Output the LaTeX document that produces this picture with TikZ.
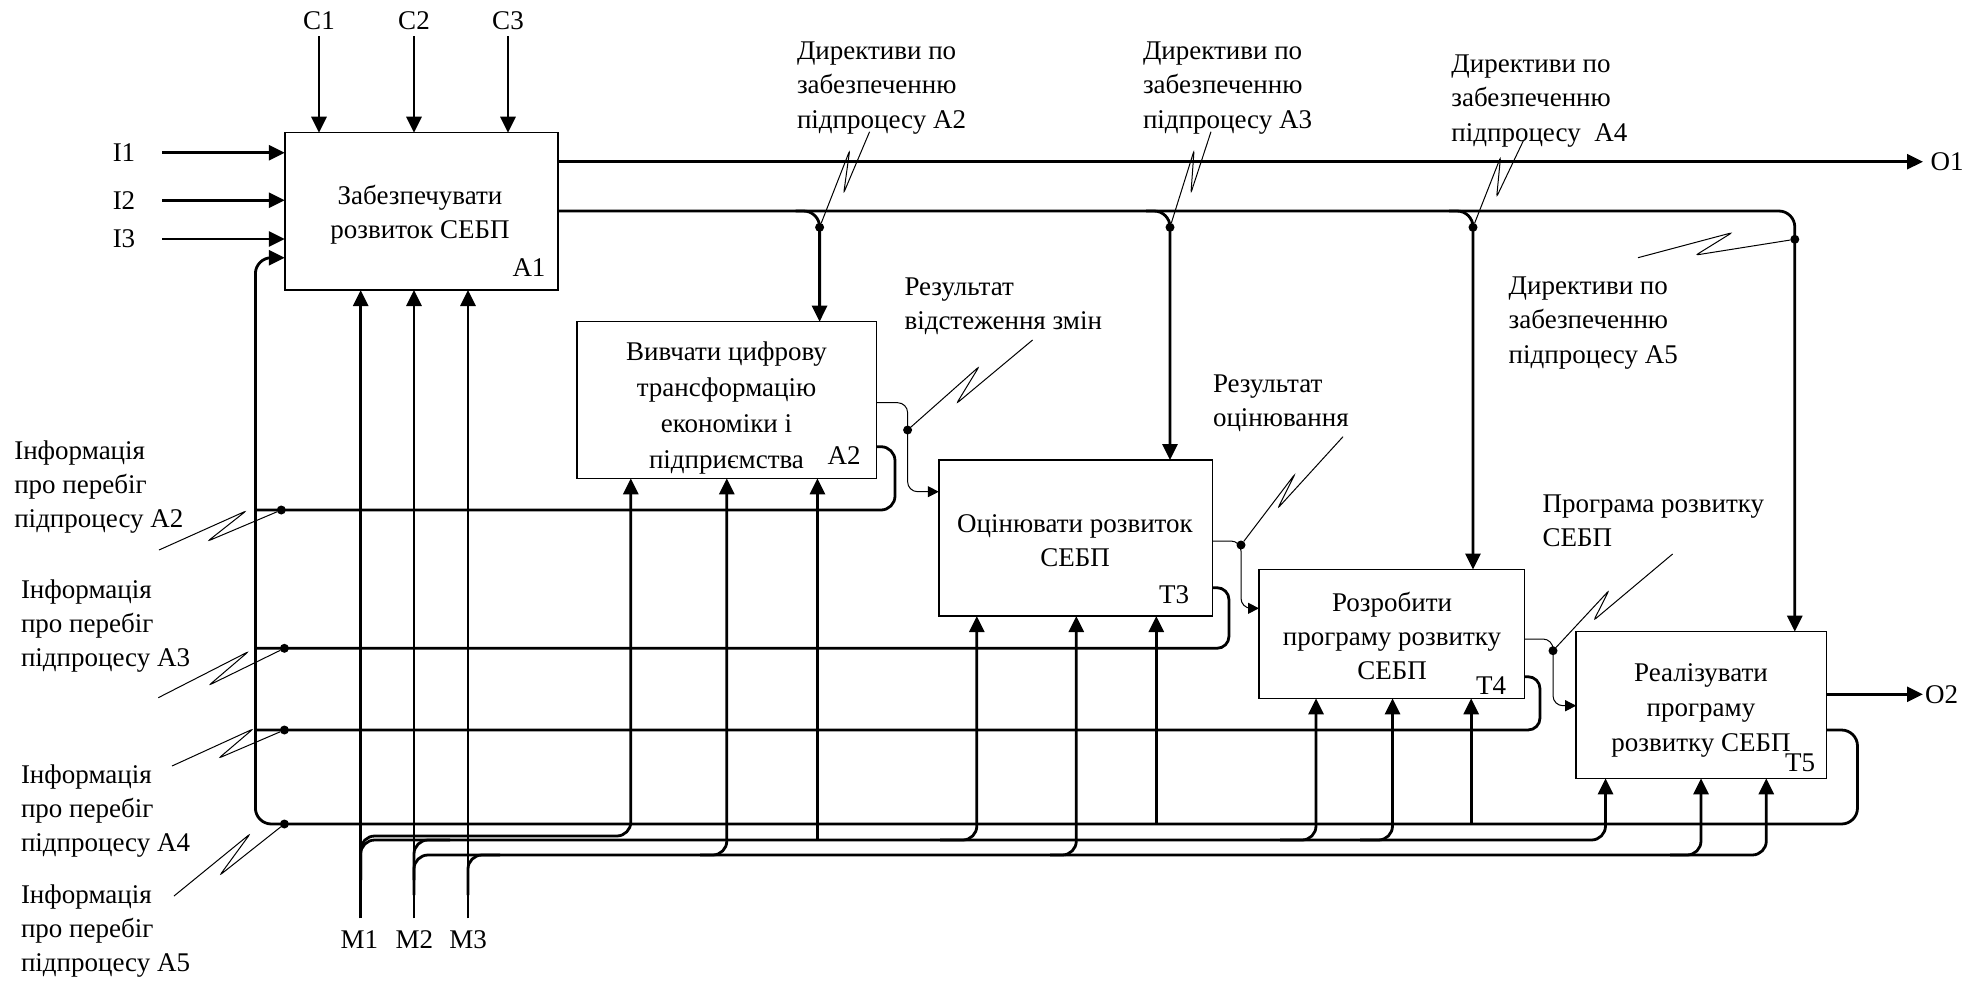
\documentclass[tikz,border=0pt]{standalone}
\usepackage{fontspec}
\setmainfont{Liberation Serif}
\usetikzlibrary{arrows.meta,fit}
\begin{document}
\begin{tikzpicture}[x=0.5pt,y=-0.5pt,
  every node/.style={font=\fontsize{13.5}{17.2}\selectfont, inner sep=0pt, outer sep=0pt},
  box/.style={draw, line width=0.75pt, inner sep=0pt, outer sep=0pt},
  btxt/.style={align=center},
  thk/.style={line width=1.4pt},
  thn/.style={line width=0.5pt},
  arr/.style={-{Triangle[length=8pt,width=7.5pt]}},
  sarr/.style={-{Triangle[length=5.5pt,width=5.5pt]}},
  dot/.style={circle, fill, inner sep=0pt, minimum size=4.5pt},
  sq/.style={line width=0.5pt, rounded corners=1.2pt},
  lab/.style={align=left, anchor=west}]
\useasboundingbox (0,0) rectangle (1988,986);

% activity boxes
\node[box, fit={(284.8,132.7) (558,290)}] (A1) {};
\node[box, fit={(577.2,321.7) (876.3,478.3)}] (A2) {};
\node[box, fit={(938.8,460) (1212.5,616)}] (T3) {};
\node[box, fit={(1259,569.5) (1524.5,698.3)}] (T4) {};
\node[box, fit={(1576.2,631.7) (1826.7,778.3)}] (T5) {};

\node[btxt] (tA1) at (420,215) {Забезпечувати\\розвиток СЕБП};
\node[btxt, font=\fontsize{13.5}{18}\selectfont] (tA2) at (726.5,408) {Вивчати цифрову\\трансформацію\\економіки і\\підприємства};
\node[btxt] (tT3) at (1075,540.5) {Оцінювати розвиток\\СЕБП};
\node[btxt, font=\fontsize{13.5}{17}\selectfont] (tT4) at (1392,636) {Розробити\\програму розвитку\\СЕБП};
\node[btxt, font=\fontsize{13.5}{17.5}\selectfont] (tT5) at (1701,710) {Реалізувати\\програму\\розвитку СЕБП};

\node (idA1) at (529,268) {A1};
\node (idA2) at (844,456) {A2};
\node (idT3) at (1174,595) {T3};
\node (idT4) at (1491,686) {T4};
\node (idT5) at (1800,763) {T5};

% controls C1..C3
\node (C1) at (319,20.7) {C1};
\node (C2) at (414,20.7) {C2};
\node (C3) at (508,20.7) {C3};
\coordinate (c1s) at (319,36);
\coordinate (c2s) at (414,36);
\coordinate (c3s) at (508,36);
\draw[thk,arr] (c1s) -- (c1s |- A1.north);
\draw[thk,arr] (c2s) -- (c2s |- A1.north);
\draw[thk,arr] (c3s) -- (c3s |- A1.north);

% inputs I1..I3
\node (I1) at (124,152.7) {I1};
\node (I2) at (124,200.3) {I2};
\node (I3) at (124,239) {I3};
\coordinate (i1s) at (162,152.7);
\coordinate (i2s) at (162,200.3);
\coordinate (i3s) at (162,239);
\draw[thk,arr] (i1s) -- (i1s -| A1.west);
\draw[thk,arr] (i2s) -- (i2s -| A1.west);
\draw[thk,arr] (i3s) -- (i3s -| A1.west);

% output O1
\node[anchor=west] (O1) at (1930.6,161.7) {O1};
\coordinate (o1t) at (1923,161.7);
\draw[thk,arr] (o1t -| A1.east) -- (o1t);

% directive line from A1 to the sub-processes
\coordinate (a1o) at (558,211);
\coordinate (d2) at (819.6,211);
\coordinate (d3) at (1170,211);
\coordinate (d4) at (1473,211);
\coordinate (d5) at (1794.8,211);
\draw[thk,arr,rounded corners=8pt] (a1o) -- (d5) -- (d5 |- T5.north);
\draw[thk,arr,rounded corners=8pt] ([xshift=-12pt]d2) -- (d2) -- (d2 |- A2.north);
\draw[thk,arr,rounded corners=8pt] ([xshift=-12pt]d3) -- (d3) -- (d3 |- T3.north);
\draw[thk,arr,rounded corners=8pt] ([xshift=-12pt]d4) -- (d4) -- (d4 |- T4.north);
\node[dot] (dd2) at (819.6,227.3) {};
\node[dot] (dd3) at (1170,227.3) {};
\node[dot] (dd4) at (1473,227.3) {};
\node[dot] (dd5) at (1794.8,239.3) {};

% result (thin) arrows
\coordinate (r2) at (907.6,402.7);
\coordinate (r2b) at (907.6,491.7);
\draw[thn,sarr,rounded corners=5pt] (r2 -| A2.east) -- (r2) -- (r2b) -- (r2b -| T3.west);
\coordinate (r3) at (1241,541);
\coordinate (r3b) at (1241,608.3);
\draw[thn,sarr,rounded corners=5pt] (r3 -| T3.east) -- (r3) -- (r3b) -- (r3b -| T4.west);
\coordinate (r4) at (1553,639);
\coordinate (r4b) at (1553,705.7);
\draw[thn,sarr,rounded corners=5pt] (r4 -| T4.east) -- (r4) -- (r4b) -- (r4b -| T5.west);
\node[dot] (dr2) at (907.6,430) {};
\node[dot] (dr3) at (1241,545) {};
\node[dot] (dr4) at (1553,650.7) {};

% output O2
\node[anchor=west] (O2) at (1925,694.3) {O2};
\coordinate (o2t) at (1923,694.3);
\draw[thk,arr] (o2t -| T5.east) -- (o2t);

% feedback (information) lines
\coordinate (f2) at (895,446.7);
\coordinate (f2b) at (895,510);
\coordinate (fb2) at (255.4,510);
\draw[thk,rounded corners=7pt] (f2 -| A2.east) -- (f2) -- (f2b) -- (fb2);
\coordinate (f3) at (1229,587.7);
\coordinate (f3b) at (1229,648.3);
\coordinate (fb3) at (255.4,648.3);
\draw[thk,rounded corners=6pt] (f3 -| T3.east) -- (f3) -- (f3b) -- (fb3);
\coordinate (f4) at (1540,676.7);
\coordinate (f4b) at (1540,730);
\coordinate (fb4) at (255.4,730);
\draw[thk,rounded corners=6pt] (f4 -| T4.east) -- (f4) -- (f4b) -- (fb4);
\coordinate (f5) at (1857.5,730);
\coordinate (f5b) at (1857.5,824);
\coordinate (fb5) at (255.4,824);
\coordinate (fbt) at (255.4,257.7);
\draw[thk,arr,rounded corners=8pt] (f5 -| T5.east) -- (f5) -- (f5b) -- (fb5) -- (fbt) -- (fbt -| A1.west);
\node[dot] (di2) at (281.3,510) {};
\node[dot] (di3) at (284.4,648.3) {};
\node[dot] (di4) at (284.4,730) {};
\node[dot] (di5) at (284.4,824) {};

% mechanisms
\node (M1) at (359.4,939.3) {M1};
\node (M2) at (414.3,939.3) {M2};
\node (M3) at (468,939.3) {M3};
\coordinate (m1) at (360.7,918.3);
\coordinate (m2) at (414,918.3);
\coordinate (m3) at (468,918.3);
\draw[thk,arr] (m1) -- (m1 |- A1.south);
\draw[thk,arr] (m2) -- (m2 |- A1.south);
\draw[thk,arr] (m3) -- (m3 |- A1.south);
% distribution buses
\draw[thk,arr,rounded corners=7pt] (360.7,880) -- (360.7,836) -- (630.8,836) -- (630.8,836 |- A2.south);
\draw[thk,arr,rounded corners=7pt] (360.7,880) -- (360.7,840) -- (1605.5,840) -- (1605.5,840 |- T5.south);
\draw[thk,rounded corners=7pt] (414,880) -- (414,840) -- (450,840);
\draw[thk,arr,rounded corners=7pt] (414,895) -- (414,855) -- (1766.3,855) -- (1766.3,855 |- T5.south);
\draw[thk,rounded corners=7pt] (468,895) -- (468,855) -- (500,855);
% branches
\draw[thk,arr] (817.4,840) -- (817.4,840 |- A2.south);
\draw[thk,arr,rounded corners=7pt] (700,855) -- (726.8,855) -- (726.8,855 |- A2.south);
\draw[thk,arr,rounded corners=7pt] (940,840) -- (976.8,840) -- (976.8,840 |- T3.south);
\draw[thk,arr,rounded corners=7pt] (1050,855) -- (1076.3,855) -- (1076.3,855 |- T3.south);
\draw[thk,arr] (1156.3,824) -- (1156.3,824 |- T3.south);
\draw[thk,arr,rounded corners=7pt] (1280,840) -- (1316,840) -- (1316,840 |- T4.south);
\draw[thk,arr,rounded corners=7pt] (1360,840) -- (1392.5,840) -- (1392.5,840 |- T4.south);
\draw[thk,arr] (1471.2,824) -- (1471.2,824 |- T4.south);
\draw[thk,arr,rounded corners=7pt] (1670,855) -- (1701,855) -- (1701,855 |- T5.south);

% labels
\node[lab] (lbA2) at (797,88) {Директиви по\\забезпеченню\\підпроцесу A2};
\node[lab] (lbA3) at (1143,88) {Директиви по\\забезпеченню\\підпроцесу A3};
\node[lab] (lbA4) at (1451.4,101) {Директиви по\\забезпеченню\\підпроцесу\ \ A4};
\node[lab] (lbA5) at (1508.7,323) {Директиви по\\забезпеченню\\підпроцесу A5};
\node[lab] (lbR2) at (904.5,306.5) {Результат\\відстеження змін};
\node[lab] (lbR3) at (1213,403) {Результат\\оцінювання};
\node[lab] (lbP4) at (1542.5,520.5) {Програма розвитку\\СЕБП};
\node[lab] (lbI2) at (14.3,487) {Інформація\\про перебіг\\підпроцесу A2};
\node[lab] (lbI3) at (21,626) {Інформація\\про перебіг\\підпроцесу A3};
\node[lab] (lbI4) at (21,811) {Інформація\\про перебіг\\підпроцесу A4};
\node[lab] (lbI5) at (21,931) {Інформація\\про перебіг\\підпроцесу A5};

% squiggle leaders
\draw[sq] (869.6,131.7) -- (843.8,192.7) -- (849.6,150.7) -- (dd2);
\draw[sq] (1211,131.7) -- (1191,192.7) -- (1194,150.7) -- (dd3);
\draw[sq] (1523.7,140) -- (1496.7,196.7) -- (1500.5,157.3) -- (dd4);
\draw[sq] (1638,257.7) -- (1732,232.7) -- (1696,255) -- (dd5);
\draw[sq] (1032.6,340) -- (956.7,403.3) -- (979,366.7) -- (dr2);
\draw[sq] (1343,436.7) -- (1278,508) -- (1295,474) -- (dr3);
\draw[sq] (1672.6,554) -- (1594,620) -- (1608.8,590.7) -- (dr4);
\draw[sq] (159,550) -- (246,511) -- (208,541) -- (di2);
\draw[sq] (158.3,697.7) -- (248.3,651.7) -- (209.3,685) -- (di3);
\draw[sq] (172,766) -- (253,729) -- (219,758) -- (di4);
\draw[sq] (174,896) -- (250,834) -- (220,875) -- (di5);
\end{tikzpicture}
\end{document}
